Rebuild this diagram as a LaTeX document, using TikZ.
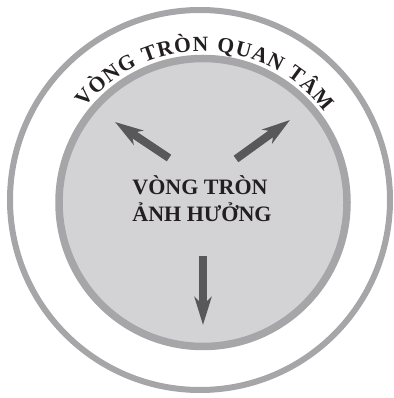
\documentclass[tikz,border=0pt]{standalone}
\usepackage{fontspec}
\setmainfont{Liberation Serif}
\usetikzlibrary{arrows.meta,calc}
\definecolor{ringgray}{HTML}{A6A6A9}
\definecolor{fillgray}{HTML}{D3D3D5}
\definecolor{arrowgray}{HTML}{58585A}
\definecolor{inkblack}{HTML}{231F20}
\tikzset{
  ring/.style={draw=ringgray, line width=6pt},
  innerring/.style={draw=ringgray, fill=fillgray, line width=7.5pt},
  bigarrow/.style={draw=arrowgray, line width=8pt, -{Stealth[length=28pt,width=17pt,inset=8pt]}},
  label/.style={text=inkblack, font=\bfseries\fontsize{22}{27}\selectfont, anchor=base, inner sep=0pt},
  arcletter/.style={text=inkblack, font=\bfseries\fontsize{21.5}{21.5}\selectfont, anchor=base, inner sep=0pt}
}
\begin{document}
\begin{tikzpicture}[x=1pt,y=1pt]
\useasboundingbox (0,0) rectangle (393,398);
\coordinate (oc) at (200,198);
\coordinate (ic) at (203,195.5);
\draw[ring] (oc) circle[radius=190];
\draw[innerring] (ic) circle[radius=144];
% curved title, letter by letter
\def\fs{21.5}\def\trk{1.0}\def\R{151.5}\def\Ltot{279.3}\def\cang{88.5}
\gdef\cur{0}
\foreach \ch/\w/\g [count=\i] in {V/0.722/0, Ò/0.778/0, N/0.722/0, G/0.778/7.4,
  T/0.667/0, R/0.722/0, Ò/0.778/0, N/0.722/7.4,
  Q/0.778/0, U/0.722/0, A/0.722/0, N/0.722/7.4,
  T/0.667/0, Â/0.722/0, M/0.944/0}{
  \pgfmathsetmacro\wpt{\w*\fs}
  \pgfmathsetmacro\mid{\cur+\wpt/2}
  \pgfmathsetmacro\ang{\cang+(\Ltot/2-\mid)/\R*180/pi}
  \node[arcletter, rotate=\ang-90] (t\i) at ($(ic)+(\ang:\R)$) {\ch};
  \pgfmathsetmacro\nxt{\cur+\wpt+\trk+\g}
  \global\let\cur\nxt
}
\node[label] (l1) at (200,203) {VÒNG TRÒN};
\node[label] (l2) at (202,176) {ẢNH HƯỞNG};
\coordinate (a1s) at (169,240);
\coordinate (a1e) at (115,276);
\coordinate (a2s) at (236,239);
\coordinate (a2e) at (290,278);
\coordinate (a3s) at (203,142);
\coordinate (a3e) at (203,73);
\draw[bigarrow] (a1s) -- (a1e);
\draw[bigarrow] (a2s) -- (a2e);
\draw[bigarrow] (a3s) -- (a3e);
\end{tikzpicture}
\end{document}
